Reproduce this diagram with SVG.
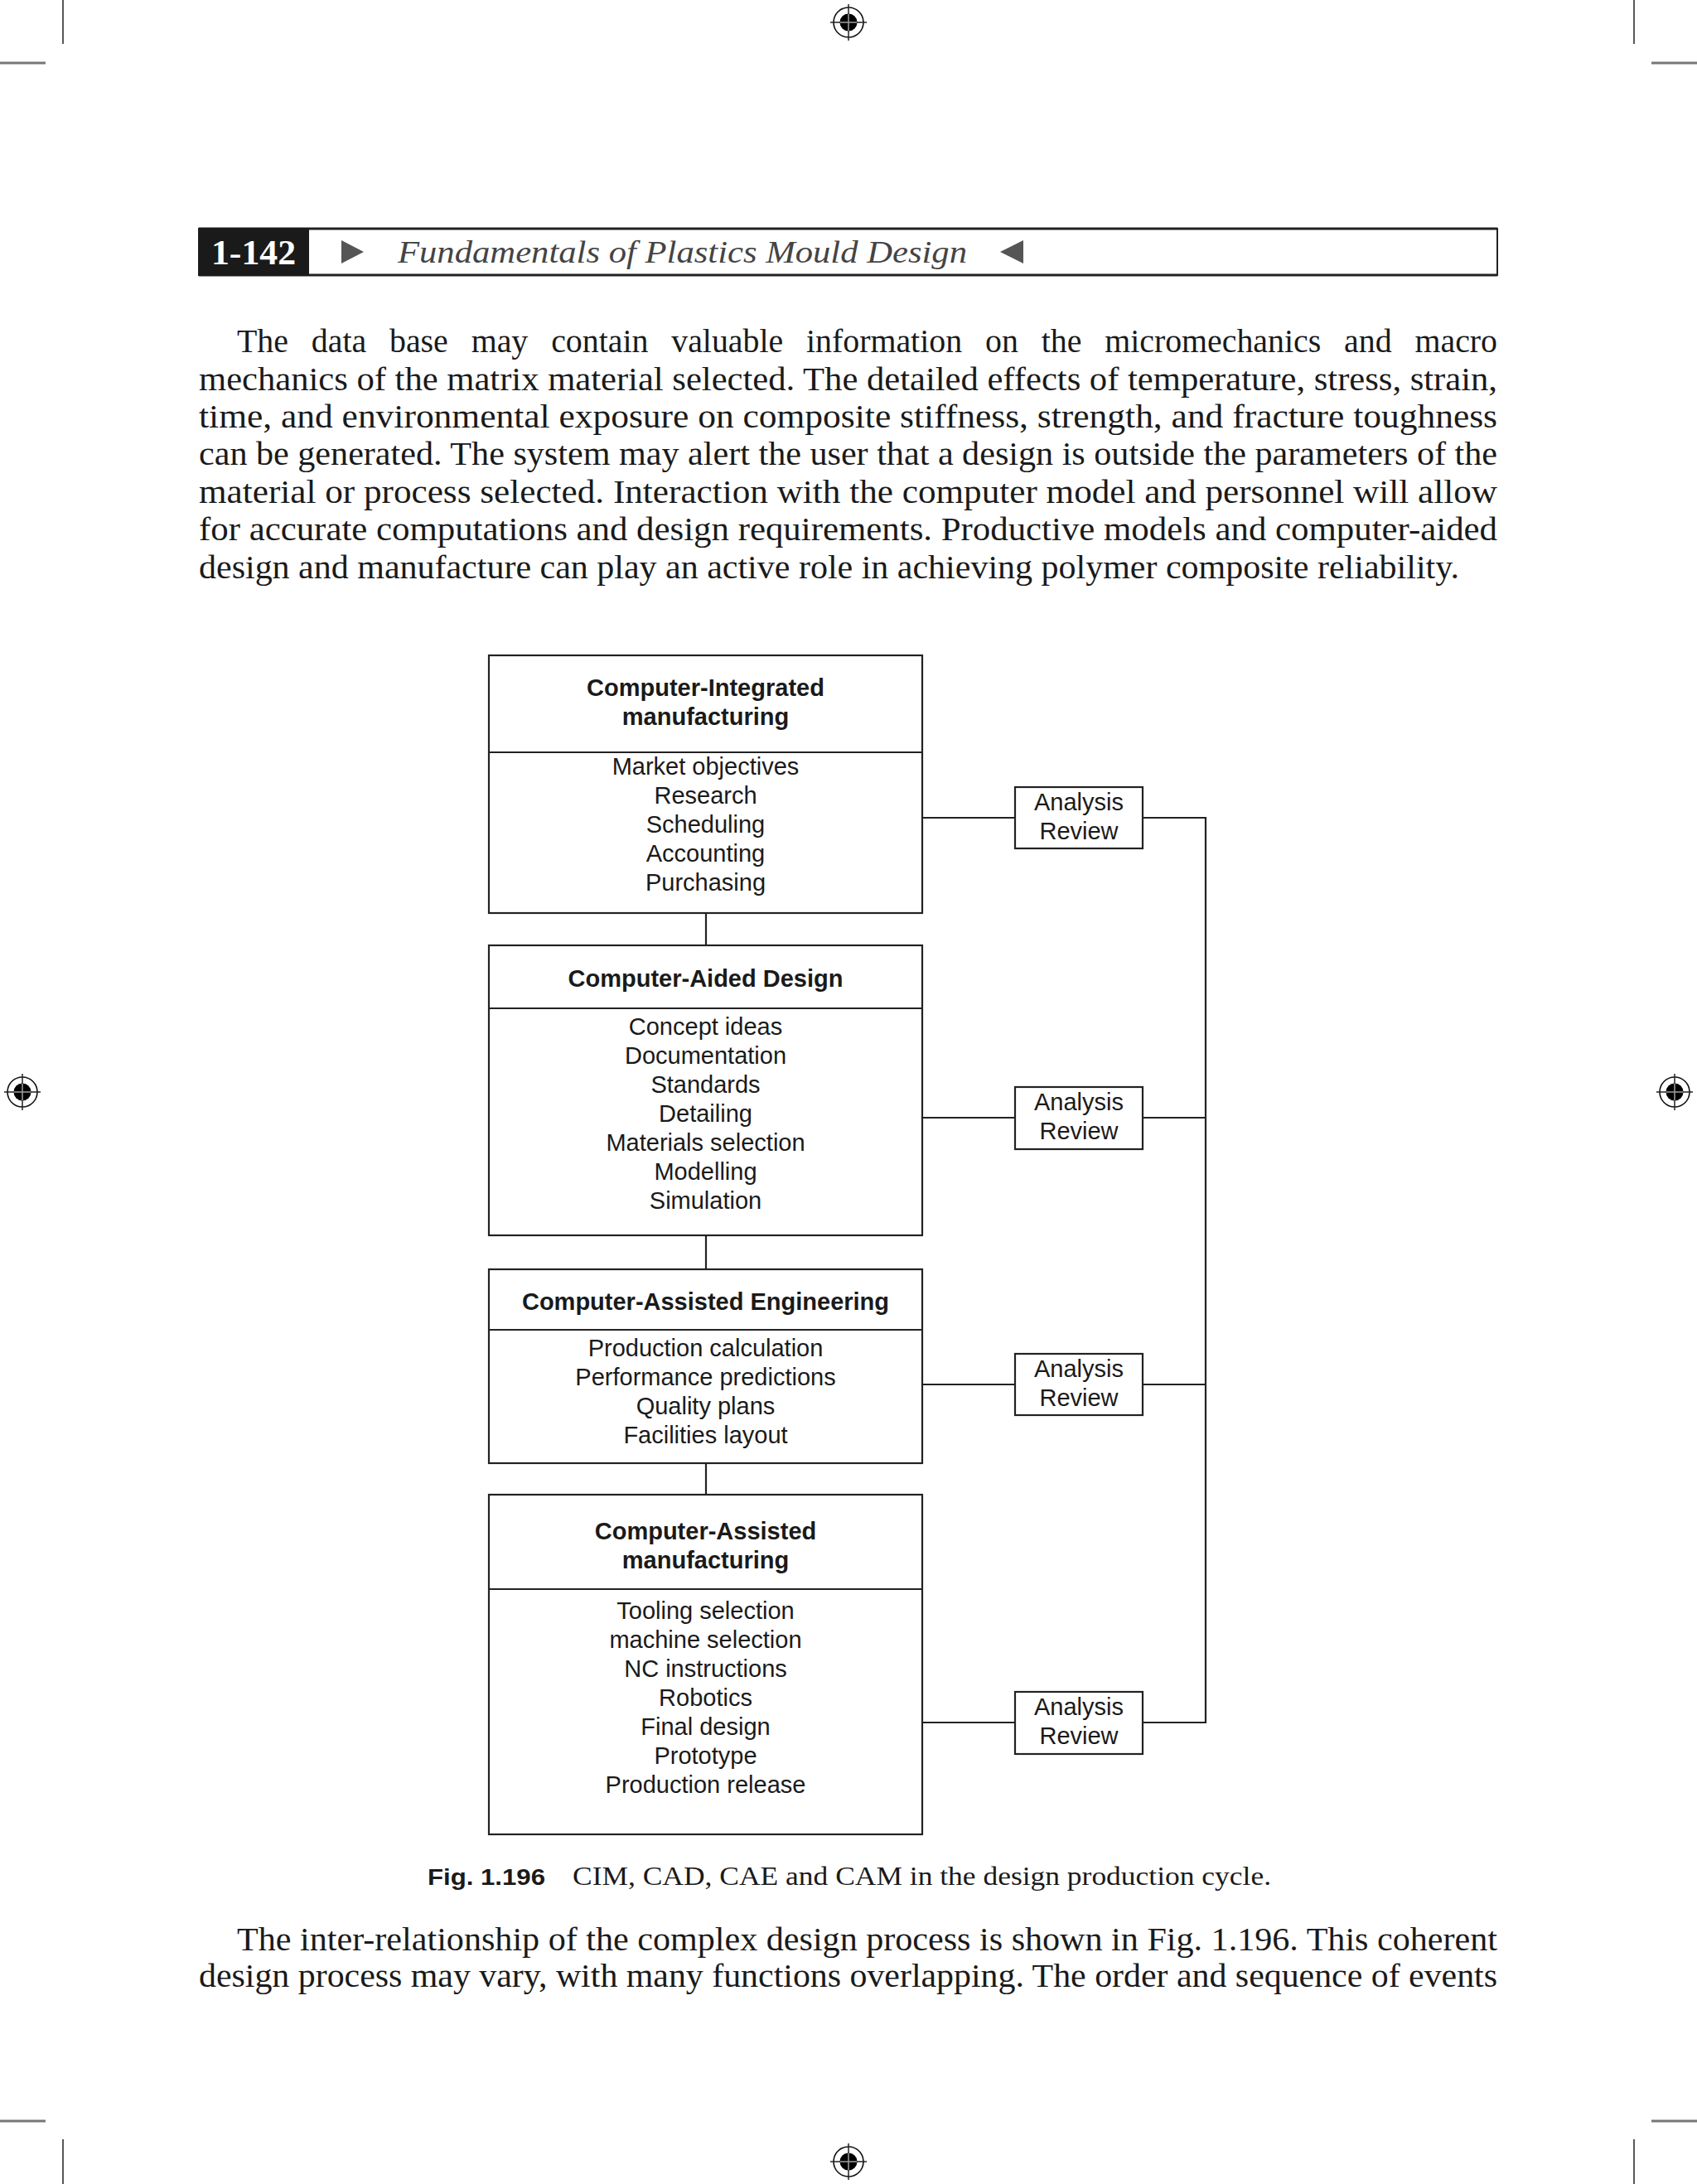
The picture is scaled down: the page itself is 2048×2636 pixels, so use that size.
<svg xmlns="http://www.w3.org/2000/svg" width="2048" height="2636" viewBox="0 0 2048 2636">
<style>
.crop{stroke:#222;stroke-width:1.5;fill:none}
.tick{stroke:#777;stroke-width:3;fill:none}
.body{font-family:"Liberation Serif",serif;font-size:40px;fill:#1a1a1a}
.box{fill:#fff;stroke:#222;stroke-width:2.2}
.div{stroke:#222;stroke-width:2.2}
.ttl{font-family:"Liberation Sans",Arial,sans-serif;font-size:29px;font-weight:bold;fill:#1a1a1a;text-anchor:middle}
.itm{font-family:"Liberation Sans",Arial,sans-serif;font-size:29px;fill:#1a1a1a;text-anchor:middle}
.conn{stroke:#222;stroke-width:2.2;fill:none}
</style>
<defs>
<g id="target">
<circle cx="0" cy="0" r="18" fill="none" stroke="#111" stroke-width="1.6"/>
<circle cx="0" cy="0" r="10.5" fill="#000"/>
<line x1="-22" y1="0" x2="22" y2="0" stroke="#222" stroke-width="1.5"/>
<line x1="0" y1="-22" x2="0" y2="22" stroke="#222" stroke-width="1.5"/>
<line x1="-10" y1="0" x2="10" y2="0" stroke="#999" stroke-width="1.5"/>
<line x1="0" y1="-10" x2="0" y2="10" stroke="#999" stroke-width="1.5"/>
</g>
</defs>
<rect x="0" y="0" width="2048" height="2636" fill="#fff"/>

<g id="page-marks">
<line class="crop" x1="76" y1="0" x2="76" y2="53"/>
<line class="crop" x1="1972" y1="0" x2="1972" y2="53"/>
<line class="tick" x1="0" y1="76" x2="55" y2="76"/>
<line class="tick" x1="1993" y1="76" x2="2048" y2="76"/>
<line class="tick" x1="0" y1="2560" x2="55" y2="2560"/>
<line class="tick" x1="1993" y1="2560" x2="2048" y2="2560"/>
<line class="crop" x1="76" y1="2582" x2="76" y2="2636"/>
<line class="crop" x1="1972" y1="2582" x2="1972" y2="2636"/>
<use href="#target" x="1024" y="27"/>
<use href="#target" x="1024" y="2609"/>
<use href="#target" x="27" y="1318"/>
<use href="#target" x="2021" y="1318"/>
</g>

<g id="header">
<rect x="240" y="276" width="1567" height="56" fill="#fff" stroke="#222" stroke-width="2"/>
<line x1="240" y1="276" x2="1807" y2="276" stroke="#222" stroke-width="3"/>
<line x1="240" y1="332" x2="1807" y2="332" stroke="#222" stroke-width="3"/>
<rect x="240" y="275" width="133" height="58" fill="#1a1a1a"/>
<text x="306" y="319" font-family="'Liberation Serif',serif" font-size="42" font-weight="bold" fill="#fff" text-anchor="middle" textLength="102" lengthAdjust="spacingAndGlyphs">1-142</text>
<polygon points="412,290 439,304 412,318" fill="#555"/>
<text x="480" y="317" font-family="'Liberation Serif',serif" font-size="37" font-style="italic" fill="#444" textLength="687" lengthAdjust="spacingAndGlyphs">Fundamentals of Plastics Mould Design</text>
<polygon points="1235,290 1207,304 1235,318" fill="#555"/>
</g>

<g id="paragraph-top" class="body">
<text x="286" y="425" textLength="1521" lengthAdjust="spacingAndGlyphs" word-spacing="18">The data base may contain valuable information on the micromechanics and macro</text>
<text x="240" y="471" textLength="1567" lengthAdjust="spacingAndGlyphs">mechanics of the matrix material selected. The detailed effects of temperature, stress, strain,</text>
<text x="240" y="516" textLength="1567" lengthAdjust="spacingAndGlyphs">time, and environmental exposure on composite stiffness, strength, and fracture toughness</text>
<text x="240" y="561" textLength="1567" lengthAdjust="spacingAndGlyphs">can be generated. The system may alert the user that a design is outside the parameters of the</text>
<text x="240" y="607" textLength="1567" lengthAdjust="spacingAndGlyphs">material or process selected. Interaction with the computer model and personnel will allow</text>
<text x="240" y="652" textLength="1567" lengthAdjust="spacingAndGlyphs">for accurate computations and design requirements. Productive models and computer-aided</text>
<text x="240" y="698" textLength="1521" lengthAdjust="spacingAndGlyphs">design and manufacture can play an active role in achieving polymer composite reliability.</text>
</g>

<g id="connectors">
<line class="conn" x1="852" y1="1102" x2="852" y2="1141"/>
<line class="conn" x1="852" y1="1491" x2="852" y2="1532"/>
<line class="conn" x1="852" y1="1766" x2="852" y2="1804"/>
<line class="conn" x1="1113" y1="987" x2="1225" y2="987"/>
<line class="conn" x1="1113" y1="1349" x2="1225" y2="1349"/>
<line class="conn" x1="1113" y1="1671" x2="1225" y2="1671"/>
<line class="conn" x1="1113" y1="2079" x2="1225" y2="2079"/>
<polyline class="conn" points="1379,987 1455,987 1455,2079 1379,2079"/>
<line class="conn" x1="1379" y1="1349" x2="1455" y2="1349"/>
<line class="conn" x1="1379" y1="1671" x2="1455" y2="1671"/>
</g>

<g id="node-cim">
<rect class="box" x="590" y="791" width="523" height="311"/>
<line class="div" x1="590" y1="908" x2="1113" y2="908"/>
<text class="ttl" x="851.5" y="840">Computer-Integrated</text>
<text class="ttl" x="851.5" y="875">manufacturing</text>
<text class="itm" x="851.5" y="935">Market objectives</text>
<text class="itm" x="851.5" y="970">Research</text>
<text class="itm" x="851.5" y="1005">Scheduling</text>
<text class="itm" x="851.5" y="1040">Accounting</text>
<text class="itm" x="851.5" y="1075">Purchasing</text>
</g>

<g id="node-cad">
<rect class="box" x="590" y="1141" width="523" height="350"/>
<line class="div" x1="590" y1="1217" x2="1113" y2="1217"/>
<text class="ttl" x="851.5" y="1191">Computer-Aided Design</text>
<text class="itm" x="851.5" y="1249">Concept ideas</text>
<text class="itm" x="851.5" y="1284">Documentation</text>
<text class="itm" x="851.5" y="1319">Standards</text>
<text class="itm" x="851.5" y="1354">Detailing</text>
<text class="itm" x="851.5" y="1389">Materials selection</text>
<text class="itm" x="851.5" y="1424">Modelling</text>
<text class="itm" x="851.5" y="1459">Simulation</text>
</g>

<g id="node-cae">
<rect class="box" x="590" y="1532" width="523" height="234"/>
<line class="div" x1="590" y1="1605" x2="1113" y2="1605"/>
<text class="ttl" x="851.5" y="1581">Computer-Assisted Engineering</text>
<text class="itm" x="851.5" y="1637">Production calculation</text>
<text class="itm" x="851.5" y="1672">Performance predictions</text>
<text class="itm" x="851.5" y="1707">Quality plans</text>
<text class="itm" x="851.5" y="1742">Facilities layout</text>
</g>

<g id="node-cam">
<rect class="box" x="590" y="1804" width="523" height="410"/>
<line class="div" x1="590" y1="1918" x2="1113" y2="1918"/>
<text class="ttl" x="851.5" y="1858">Computer-Assisted</text>
<text class="ttl" x="851.5" y="1893">manufacturing</text>
<text class="itm" x="851.5" y="1954">Tooling selection</text>
<text class="itm" x="851.5" y="1989">machine selection</text>
<text class="itm" x="851.5" y="2024">NC instructions</text>
<text class="itm" x="851.5" y="2059">Robotics</text>
<text class="itm" x="851.5" y="2094">Final design</text>
<text class="itm" x="851.5" y="2129">Prototype</text>
<text class="itm" x="851.5" y="2164">Production release</text>
</g>

<g id="node-review-1">
<rect class="box" x="1225" y="950" width="154" height="74"/>
<text class="itm" x="1302" y="978">Analysis</text>
<text class="itm" x="1302" y="1013">Review</text>
</g>
<g id="node-review-2">
<rect class="box" x="1225" y="1312" width="154" height="75"/>
<text class="itm" x="1302" y="1340">Analysis</text>
<text class="itm" x="1302" y="1375">Review</text>
</g>
<g id="node-review-3">
<rect class="box" x="1225" y="1634" width="154" height="74"/>
<text class="itm" x="1302" y="1662">Analysis</text>
<text class="itm" x="1302" y="1697">Review</text>
</g>
<g id="node-review-4">
<rect class="box" x="1225" y="2042" width="154" height="75"/>
<text class="itm" x="1302" y="2070">Analysis</text>
<text class="itm" x="1302" y="2105">Review</text>
</g>

<g id="caption">
<text x="516" y="2275" font-family="'Liberation Sans',sans-serif" font-size="27" font-weight="bold" fill="#1a1a1a" textLength="142" lengthAdjust="spacingAndGlyphs">Fig. 1.196</text>
<text x="691" y="2275" font-family="'Liberation Serif',serif" font-size="31" fill="#1a1a1a" textLength="843" lengthAdjust="spacingAndGlyphs">CIM, CAD, CAE and CAM in the design production cycle.</text>
</g>

<g id="paragraph-bottom" class="body">
<text x="286" y="2354" textLength="1521" lengthAdjust="spacingAndGlyphs">The inter-relationship of the complex design process is shown in Fig. 1.196. This coherent</text>
<text x="240" y="2398" textLength="1567" lengthAdjust="spacingAndGlyphs">design process may vary, with many functions overlapping. The order and sequence of events</text>
</g>
</svg>
